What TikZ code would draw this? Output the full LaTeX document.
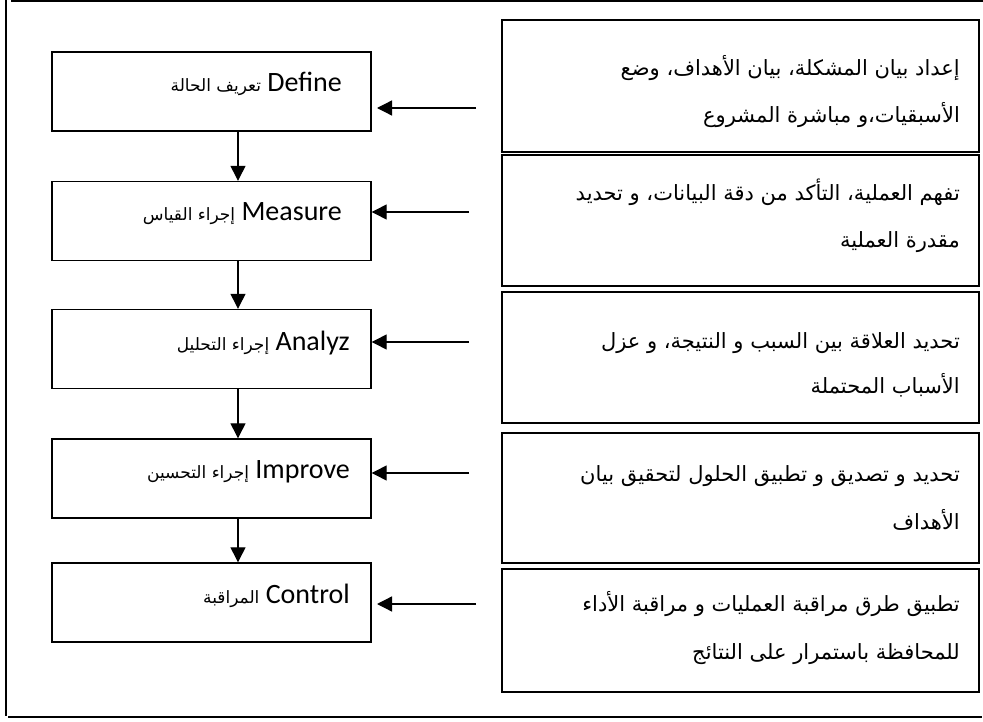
\documentclass[tikz,border=0pt]{standalone}
\usepackage{fontspec}
\setmainfont{Carlito}
\newfontfamily\arabicfont[Script=Arabic]{DejaVu Sans}
\TeXXeTstate=1
\usetikzlibrary{arrows.meta}
\newcommand{\AR}[1]{{\arabicfont\beginR #1\endR}}
\begin{document}
\begin{tikzpicture}[x=1pt,y=-1pt,
  leftbox/.style={draw, line width=1.4pt, minimum width=319pt, minimum height=79pt, inner sep=0pt},
  rightbox/.style={draw, line width=1.8pt, minimum width=477pt, inner sep=0pt},
  steplabel/.style={anchor=base east, inner sep=0pt, font=\fontsize{28}{30}\selectfont},
  desc/.style={anchor=base east, inner sep=0pt, font=\arabicfont\fontsize{21}{24}\selectfont},
  arr/.style={line width=1.3pt, -{Triangle[length=15pt,width=15pt]}},
  framel/.style={line width=2pt}]
\useasboundingbox (0,0) rectangle (983,722);
% outer frame
\draw[framel] (11,1) -- (983,1);
\draw[framel] (6,0) -- (6,716);
\draw[framel] (8,717) -- (982,717);
% left boxes
\node[leftbox] (def) at (211.5,91.5) {};
\node[leftbox] (mea) at (211.5,221) {};
\node[leftbox] (ana) at (211.5,349) {};
\node[leftbox] (imp) at (211.5,478.5) {};
\node[leftbox] (con) at (211.5,602.5) {};
% left labels
\node[steplabel] (tdef) at (342,92) {\AR{\fontsize{17}{18}\selectfont تعريف الحالة} Define};
\node[steplabel] (tmea) at (342,221) {\AR{\fontsize{17}{18}\selectfont إجراء القياس} Measure};
\node[steplabel] (tana) at (350,350) {\AR{\fontsize{17}{18}\selectfont إجراء التحليل} Analyz};
\node[steplabel] (timp) at (350,478) {\AR{\fontsize{17}{18}\selectfont إجراء التحسين} Improve};
\node[steplabel] (tcon) at (350,603) {\AR{\fontsize{17}{18}\selectfont المراقبة} Control};
% right boxes
\node[rightbox, minimum height=132pt] (r1) at (740.5,86) {};
\node[rightbox, minimum height=131pt] (r2) at (740.5,220.5) {};
\node[rightbox, minimum height=131pt] (r3) at (740.5,357.5) {};
\node[rightbox, minimum height=130pt] (r4) at (740.5,498) {};
\node[rightbox, minimum height=123pt] (r5) at (740.5,630.5) {};
% right texts
\node[desc] (r1a) at (960,76) {\beginR إعداد بيان المشكلة، بيان الأهداف، وضع\endR};
\node[desc] (r1b) at (960,123) {\beginR الأسبقيات،و مباشرة المشروع\endR};
\node[desc] (r2a) at (960,201) {\beginR تفهم العملية، التأكد من دقة البيانات، و تحديد\endR};
\node[desc] (r2b) at (960,248) {\beginR مقدرة العملية\endR};
\node[desc] (r3a) at (960,348) {\beginR تحديد العلاقة بين السبب و النتيجة، و عزل\endR};
\node[desc] (r3b) at (960,393) {\beginR الأسباب المحتملة\endR};
\node[desc] (r4a) at (960,481) {\beginR تحديد و تصديق و تطبيق الحلول لتحقيق بيان\endR};
\node[desc] (r4b) at (960,529) {\beginR الأهداف\endR};
\node[desc] (r5a) at (960,611) {\beginR تطبيق طرق مراقبة العمليات و مراقبة الأداء\endR};
\node[desc] (r5b) at (960,659) {\beginR للمحافظة باستمرار على النتائج\endR};
% vertical arrows
\coordinate (va) at (238,0);
\draw[arr] (def.south -| va) -- (mea.north -| va);
\draw[arr] (mea.south -| va) -- (ana.north -| va);
\draw[arr] (ana.south -| va) -- (imp.north -| va);
\draw[arr] (imp.south -| va) -- (con.north -| va);
% horizontal arrows
\coordinate (h1s) at (476,108);
\coordinate (h1e) at (377,108);
\coordinate (h2s) at (469,212);
\coordinate (h3s) at (469,342);
\coordinate (h4s) at (469,473);
\coordinate (h5s) at (476,604);
\coordinate (h5e) at (377,604);
\draw[arr] (h1s) -- (h1e);
\draw[arr] (h2s) -- (mea.east |- h2s);
\draw[arr] (h3s) -- (ana.east |- h3s);
\draw[arr] (h4s) -- (imp.east |- h4s);
\draw[arr] (h5s) -- (h5e);
\end{tikzpicture}
\end{document}
